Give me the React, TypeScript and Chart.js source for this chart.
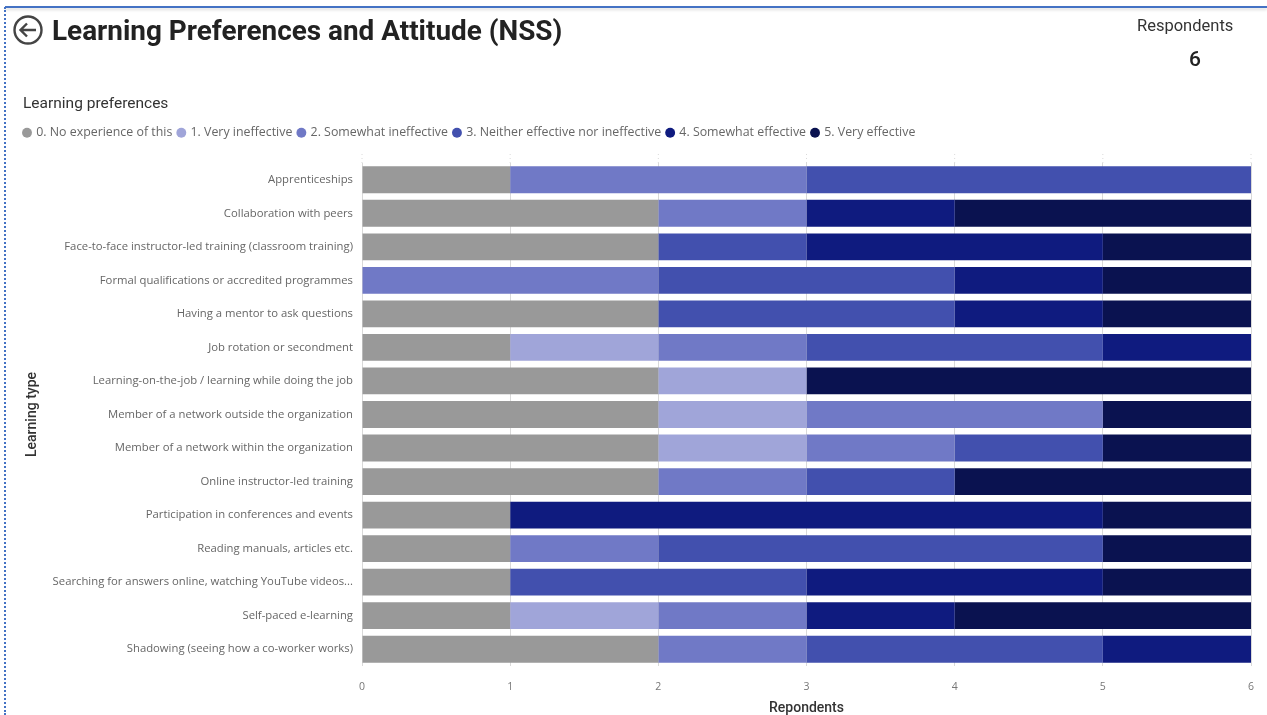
import React, { useEffect, useRef } from "react";
import { Chart, registerables } from "chart.js";

Chart.register(...registerables);

const learningTypes = [
  "Apprenticeships",
  "Collaboration with peers",
  "Face-to-face instructor-led training (classroom training)",
  "Formal qualifications or accredited programmes",
  "Having a mentor to ask questions",
  "Job rotation or secondment",
  "Learning-on-the-job / learning while doing the job",
  "Member of a network outside the organization",
  "Member of a network within the organization",
  "Online instructor-led training",
  "Participation in conferences and events",
  "Reading manuals, articles etc.",
  "Searching for answers online, watching YouTube videos...",
  "Self-paced e-learning",
  "Shadowing (seeing how a co-worker works)",
];

const noExperience = [1, 2, 2, 0, 2, 1, 2, 2, 2, 2, 1, 1, 1, 1, 2];
const veryIneffective = [0, 0, 0, 0, 0, 1, 1, 1, 1, 0, 0, 0, 0, 1, 0];
const somewhatIneffective = [2, 1, 0, 2, 0, 1, 0, 2, 1, 1, 0, 1, 0, 1, 1];
const neitherEffective = [3, 0, 1, 2, 2, 2, 0, 0, 1, 1, 0, 3, 2, 0, 2];
const somewhatEffective = [0, 1, 2, 1, 1, 1, 0, 0, 0, 0, 4, 0, 2, 1, 1];
const veryEffective = [0, 2, 1, 1, 1, 0, 3, 1, 1, 2, 1, 1, 1, 2, 0];

const seriesNames = [
  "0. No experience of this",
  "1. Very ineffective",
  "2. Somewhat ineffective",
  "3. Neither effective nor ineffective",
  "4. Somewhat effective",
  "5. Very effective",
];
const seriesValues = [noExperience, veryIneffective, somewhatIneffective, neitherEffective, somewhatEffective, veryEffective];
const seriesColors = ["#999999", "#A0A5D9", "#7079C6", "#4250AE", "#0F1B7F", "#0A1250"];

const UI_FONT = "'Open Sans', sans-serif";
const HEAD_FONT = "Roboto, sans-serif";

// Continues the vertical guide lines a little above the first bar.
const gridCap = {
  id: "gridCap",
  beforeDatasetsDraw(chart: any) {
    const { ctx, scales, chartArea } = chart;
    ctx.save();
    ctx.strokeStyle = "#d9d9d9";
    ctx.setLineDash([1, 3]);
    for (const tick of scales.x.ticks) {
      const x = scales.x.getPixelForValue(tick.value);
      ctx.beginPath();
      ctx.moveTo(x, chartArea.top - 9);
      ctx.lineTo(x, chartArea.top);
      ctx.stroke();
    }
    ctx.restore();
  },
};

// Leaves a gap under the legend and pulls its row flush with the left margin.
const legendSpacing = {
  id: "legendSpacing",
  beforeInit(chart: any) {
    const fit = chart.legend.fit;
    chart.legend.fit = function () {
      fit.call(this);
      this.height += 14;
    };
  },
  afterLayout(chart: any) {
    chart.legend.left -= 5;
    chart.legend.right -= 5;
  },
};

export default function App() {
  const canvasRef = useRef<HTMLCanvasElement>(null);

  useEffect(() => {
    const chart = new Chart(canvasRef.current!, {
      type: "bar",
      data: {
        labels: learningTypes,
        datasets: seriesNames.map((name, i) => ({
          label: name,
          data: seriesValues[i],
          backgroundColor: seriesColors[i],
          borderWidth: 0,
          barPercentage: 0.8,
          categoryPercentage: 1,
        })),
      },
      options: {
        indexAxis: "y",
        responsive: false,
        animation: false,
        layout: { padding: { left: 23, right: 16, top: 94.5, bottom: 0 } },
        plugins: {
          tooltip: { enabled: false },
          title: {
            display: true,
            text: "Learning preferences",
            align: "start",
            color: "#333333",
            font: { family: HEAD_FONT, size: 15.5, weight: "normal" },
            padding: { top: 0, bottom: 7.5 },
          },
          legend: {
            position: "top",
            align: "start",
            labels: {
              usePointStyle: true,
              pointStyle: "circle",
              boxWidth: 6,
              boxHeight: 7,
              padding: 6,
              color: "#666666",
              font: { family: UI_FONT, size: 12.38 },
            },
          },
        },
        scales: {
          x: {
            stacked: true,
            min: 0,
            max: 6,
            position: "bottom",
            ticks: { stepSize: 1, color: "#777777", padding: 15, font: { family: UI_FONT, size: 10.5 } },
            border: { display: false },
            grid: { color: "#d9d9d9", tickLength: 0 },
            title: {
              display: true,
              text: "Repondents",
              color: "#333333",
              padding: { top: 2, bottom: 0 },
              font: { family: HEAD_FONT, size: 14, weight: 500, lineHeight: 0.9 },
            },
            afterFit(scale: any) {
              scale.height = 49;
              scale.paddingRight = 3;
            },
          },
          y: {
            stacked: true,
            ticks: { color: "#666666", padding: 1, autoSkip: false, font: { family: UI_FONT, size: 11.3 } },
            border: { display: false },
            grid: { display: false },
            title: {
              display: true,
              text: "Learning type",
              color: "#333333",
              padding: { top: 1, bottom: 0 },
              font: { family: HEAD_FONT, size: 14, weight: 500 },
            },
            afterFit(scale: any) {
              scale.width = 339;
            },
          },
        },
      },
      plugins: [gridCap, legendSpacing],
    } as any);
    return () => chart.destroy();
  }, []);

  return (
    <div style={{ position: "absolute", left: 0, top: 0, width: 1267, height: 715, overflow: "hidden", background: "#fff" }}>
      <canvas ref={canvasRef} width={1267} height={715} style={{ position: "absolute", left: 0, top: 0, display: "block" }} />
      <div style={{ position: "absolute", left: 5, top: 6, right: 0, height: 2, background: "#4472C4", boxShadow: "0 2px 3px rgba(0,0,0,0.15)" }} />
      <div style={{ position: "absolute", left: 4, top: 7, bottom: 0, borderLeft: "2px dotted #4472C4" }} />
      <svg width="32" height="32" viewBox="0 0 32 32" style={{ position: "absolute", left: 12, top: 14 }}>
        <circle cx="16" cy="16" r="13.5" fill="none" stroke="#444" strokeWidth="2.4" />
        <path d="M24 16H9M15 9.5L8.5 16L15 22.5" fill="none" stroke="#444" strokeWidth="2.4" />
      </svg>
      <div style={{ position: "absolute", left: 52, top: 13, fontFamily: HEAD_FONT, fontWeight: 700, fontSize: 27.9, lineHeight: "36px", color: "#222", whiteSpace: "nowrap" }}>
        Learning Preferences and Attitude (NSS)
      </div>
      <div style={{ position: "absolute", left: 1137, top: 16, fontFamily: HEAD_FONT, fontSize: 16.5, lineHeight: "20px", color: "#333", whiteSpace: "nowrap" }}>
        Respondents
      </div>
      <div style={{ position: "absolute", left: 1189, top: 45, fontFamily: HEAD_FONT, fontWeight: 500, fontSize: 21, lineHeight: "28px", color: "#222" }}>
        6
      </div>
    </div>
  );
}
